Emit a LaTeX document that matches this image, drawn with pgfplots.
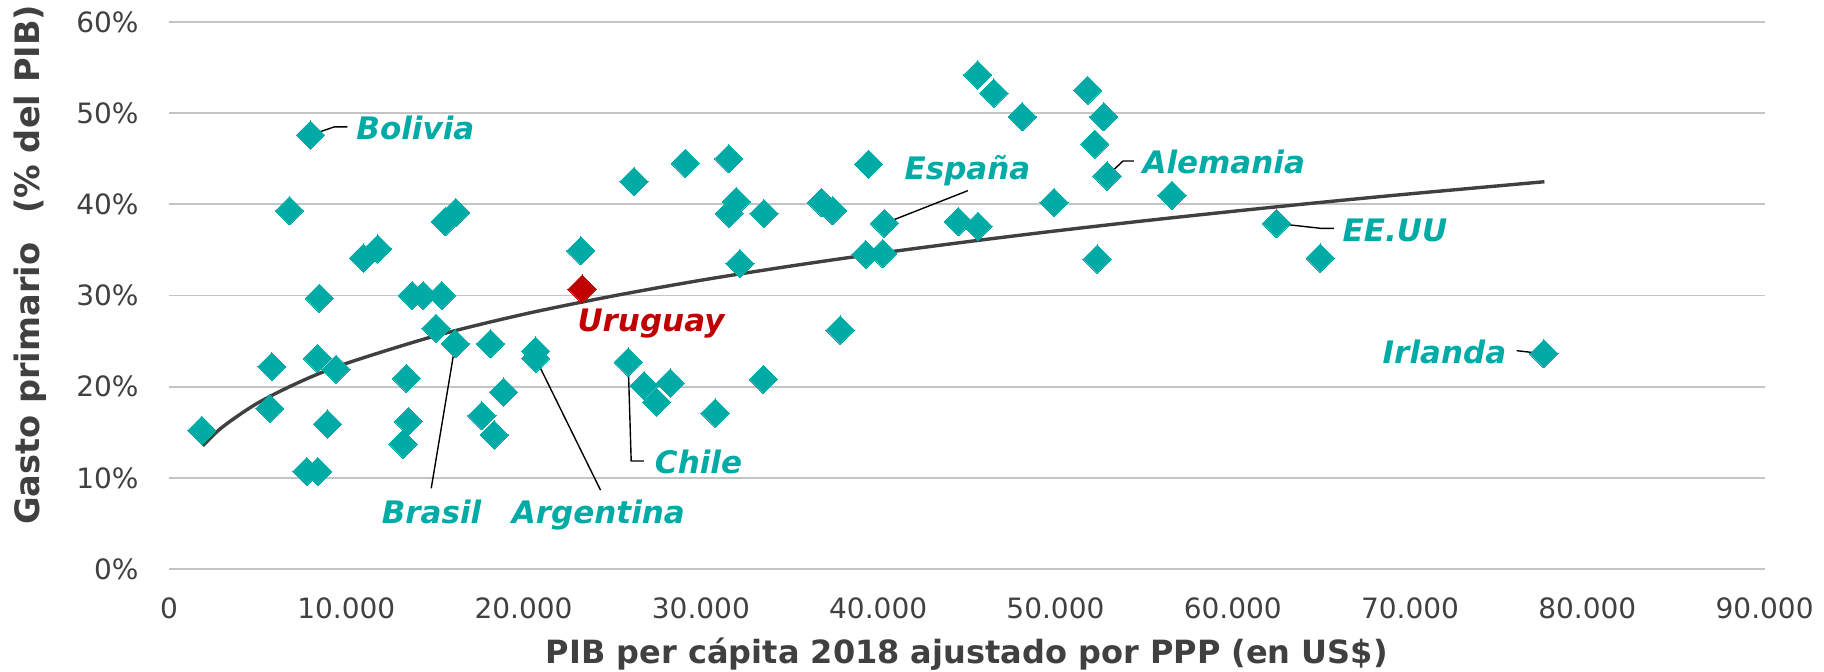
\documentclass[border=0pt]{standalone}
\usepackage{pgfplots}
\pgfplotsset{compat=1.18}
\usepackage{fontspec}
\setmainfont{DejaVu Sans}
\definecolor{teal1}{HTML}{00AAA5}
\definecolor{red1}{HTML}{C00000}
\definecolor{txt}{HTML}{404040}
\definecolor{gridc}{HTML}{C4C4C4}
\newcommand\lab{\fontsize{15.5}{18}\selectfont\bfseries\itshape}

\pgfplotstableread{
x y
1850 15.2
5800 22.2
5680 17.6
6800 39.3
7980 47.6
7770 10.7
8390 10.7
8480 29.7
8370 23.1
8940 15.9
9420 21.9
10970 34.1
11770 35.1
13390 20.9
13500 16.2
13200 13.7
13720 30.0
14340 30.0
15380 30.0
15060 26.4
15580 38.1
16170 39.1
16150 24.7
17650 16.8
18130 24.7
18340 14.7
18870 19.4
20680 23.9
20680 23.1
23230 34.9
25900 22.7
26230 42.5
26800 20.1
27500 18.3
28270 20.4
29120 44.5
30800 17.1
31570 45.0
31600 39.0
32000 40.3
32200 33.5
33530 20.8
33560 39.0
36800 40.2
37430 39.3
37850 26.2
39300 34.5
39460 44.4
40250 34.6
40350 37.9
44520 38.1
45630 37.6
45610 54.2
46530 52.2
48130 49.6
49920 40.2
51810 52.5
52220 46.6
52350 34.0
52720 49.6
52910 43.1
56570 41.0
62470 37.9
64930 34.1
77550 23.6
}\paises

\pgfplotstableread{
x y
1900 13.50
3000 15.55
5000 18.20
7500 20.63
10000 22.55
15000 25.56
20000 27.94
25000 29.93
30000 31.67
35000 33.21
40000 34.61
45000 35.89
50000 37.08
55000 38.19
60000 39.23
65000 40.22
70000 41.15
77580 42.48
}\tendencia

\begin{document}
\begin{tikzpicture}
\path[use as bounding box] (-84.5pt,-51.5pt) rectangle (827.5pt,284.5pt);
\begin{axis}[
  at={(0pt,0pt)}, anchor=south west,
  scale only axis, width=797.8pt, height=273.5pt,
  xmin=0, xmax=90000, ymin=0, ymax=60,
  scaled x ticks=false, scaled y ticks=false,
  axis line style={draw=none},
  tick style={draw=none},
  ymajorgrids, major grid style={gridc, line width=0.9pt},
  xtick={0,10000,20000,30000,40000,50000,60000,70000,80000,90000},
  xticklabels={0,10.000,20.000,30.000,40.000,50.000,60.000,70.000,80.000,90.000},
  ytick={0,10,20,30,40,50,60},
  yticklabels={0\%,10\%,20\%,30\%,40\%,50\%,60\%},
  ticklabel style={font=\fontsize{14}{16}\selectfont, text=txt},
  yticklabel style={anchor=east, inner sep=0pt, xshift=-15pt},
  xticklabel style={anchor=north, inner sep=0pt, yshift=-14.4pt},
  xlabel={PIB per cápita 2018 ajustado por PPP (en US\$)},
  ylabel={Gasto primario\ \ \,(\% del PIB)},
  xlabel style={at={(axis description cs:0.5,-0.1726)}, anchor=base, inner sep=0pt, font=\fontsize{16}{19}\selectfont\bfseries, text=txt},
  ylabel style={at={(axis description cs:-0.0811,0.556)}, anchor=base, inner sep=0pt, font=\fontsize{16.8}{20}\selectfont\bfseries, text=txt},
  clip=false,
]
\addplot[only marks, mark=square*, mark size=5pt, mark options={rotate=45, fill=teal1, draw=teal1, line width=0pt}] table[x=x,y=y] {\paises};
\addplot[red1, only marks, mark=square*, mark size=5pt, mark options={rotate=45, fill=red1, draw=red1, line width=0pt}] coordinates {(23300,30.7)};
\addplot[txt, line width=1.7pt, no marks, smooth] table[x=x,y=y] {\tendencia};

% leader lines
\draw[black, line width=0.7pt] (axis cs:7980,47.6) -- (axis cs:9330,48.5) -- (axis cs:10060,48.5);
\draw[black, line width=0.7pt] (axis cs:40350,37.9) -- (axis cs:45060,41.5);
\draw[black, line width=0.7pt] (axis cs:52910,43.1) -- (axis cs:53810,44.75) -- (axis cs:54430,44.75);
\draw[black, line width=0.7pt] (axis cs:62470,37.9) -- (axis cs:64960,37.37) -- (axis cs:65700,37.37);
\draw[black, line width=0.7pt] (axis cs:76010,23.95) -- (axis cs:77550,23.6);
\draw[black, line width=0.7pt] (axis cs:25900,22.7) -- (axis cs:26070,11.85) -- (axis cs:26790,11.85);
\draw[black, line width=0.7pt] (axis cs:16150,24.7) -- (axis cs:14790,8.85);
\draw[black, line width=0.7pt] (axis cs:20680,23.1) -- (axis cs:24340,8.65);

% labels
\node[anchor=base west, inner sep=0pt, text=teal1, font=\lab] at (axis cs:10550,47.13) {Bolivia};
\node[anchor=base, inner sep=0pt, text=teal1, font=\lab] at (axis cs:45040,42.67) {España};
\node[anchor=base west, inner sep=0pt, text=teal1, font=\lab] at (axis cs:54890,43.4) {Alemania};
\node[anchor=base west, inner sep=0pt, text=teal1, font=\lab] at (axis cs:66180,35.9) {EE.UU};
\node[anchor=base east, inner sep=0pt, text=teal1, font=\lab] at (axis cs:75450,22.56) {Irlanda};
\node[anchor=base west, inner sep=0pt, text=red1, font=\lab] at (axis cs:23020,26.0) {Uruguay};
\node[anchor=base west, inner sep=0pt, text=teal1, font=\lab] at (axis cs:27390,10.42) {Chile};
\node[anchor=base, inner sep=0pt, text=teal1, font=\lab] at (axis cs:14810,4.94) {Brasil};
\node[anchor=base, inner sep=0pt, text=teal1, font=\lab] at (axis cs:24220,4.94) {Argentina};
\end{axis}
\end{tikzpicture}
\end{document}
